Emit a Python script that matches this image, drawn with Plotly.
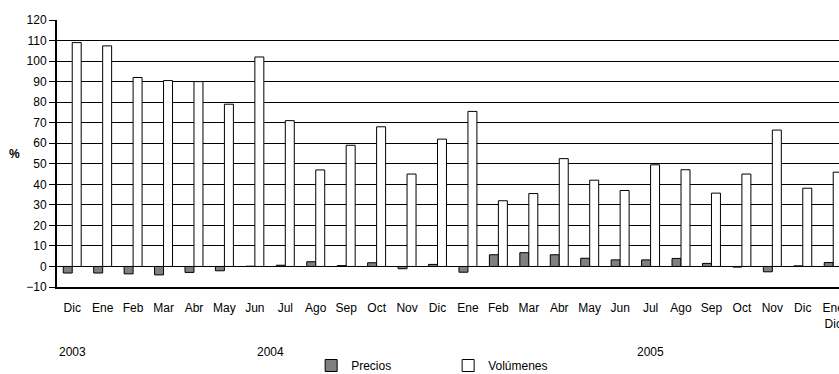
import plotly.graph_objects as go

# Monthly categories (Dic 2003 .. Ene 2006)
month_labels = ["Dic", "Ene", "Feb", "Mar", "Abr", "May", "Jun", "Jul", "Ago", "Sep", "Oct", "Nov",
                "Dic", "Ene", "Feb", "Mar", "Abr", "May", "Jun", "Jul", "Ago", "Sep", "Oct", "Nov",
                "Dic", "Ene<br>Dic"]

# Year-on-year change, %
precios = [-3.2, -3.2, -3.6, -4.1, -2.9, -2.1, 0.1, 0.6, 2.3, 0.4, 1.8, -1.1,
           1.0, -2.8, 5.7, 6.7, 5.7, 4.0, 3.2, 3.2, 3.9, 1.5, -0.3, -2.6,
           0.3, 1.9]
volumenes = [109.0, 107.4, 92.0, 90.5, 90.0, 79.0, 102.0, 71.0, 47.0, 59.0, 68.0, 45.0,
             62.0, 75.5, 32.0, 35.5, 52.5, 42.0, 37.0, 49.5, 47.1, 35.7, 45.0, 66.4,
             38.1, 45.9]

# Year group labels and their centre (in category units)
year_labels = ["2003", "2004", "2005"]
year_centres = [0, 6.5, 19]

y_ticks = list(range(-10, 121, 10))

x_pos = list(range(len(month_labels)))
FONT = "Liberation Sans, Arial, sans-serif"

fig = go.Figure()
fig.add_trace(go.Bar(
    x=x_pos, y=precios, name="Precios",
    marker=dict(color="#808080", line=dict(color="#000000", width=1)),
))
fig.add_trace(go.Bar(
    x=x_pos, y=volumenes, name="Volúmenes",
    marker=dict(color="#ffffff", line=dict(color="#000000", width=1)),
))

for label, centre in zip(year_labels, year_centres):
    fig.add_annotation(
        x=centre, xref="x", y=-0.242, yref="paper",
        text=label, showarrow=False, yanchor="middle", xanchor="center",
        font=dict(family=FONT, size=12, color="#000000"),
    )

fig.add_annotation(
    x=-0.054, xref="paper", y=55, yref="y",
    text="<b>%</b>", showarrow=False, xanchor="center", yanchor="middle",
    font=dict(family=FONT, size=12, color="#000000"),
)

fig.update_layout(
    width=839, height=374,
    margin=dict(l=57, r=0, t=20, b=87, autoexpand=False),
    paper_bgcolor="#ffffff", plot_bgcolor="#ffffff",
    barmode="group", bargap=0.41, bargroupgap=0,
    font=dict(family=FONT, size=12, color="#000000"),
    showlegend=True,
    legend=dict(
        orientation="h", x=0.325, xref="paper", xanchor="left",
        y=-0.294, yanchor="middle", entrywidth=92,
        font=dict(family=FONT, size=12, color="#000000"),
        bgcolor="rgba(0,0,0,0)", itemclick=False,
    ),
)

fig.update_xaxes(
    range=[-0.5, 25.19],
    tickmode="array", tickvals=x_pos, ticktext=month_labels,
    tickangle=0, ticks="", showgrid=False, zeroline=False,
    showline=True, linecolor="#000000", linewidth=2,
    tickfont=dict(family=FONT, size=12, color="#000000"),
    ticklabeloverflow="allow", ticklabelstandoff=9,
    automargin=False,
)
fig.update_yaxes(
    range=[-10, 120],
    tickmode="array", tickvals=y_ticks,
    ticks="outside", ticklen=6, tickcolor="#000000", tickwidth=1,
    showgrid=True, gridcolor="#000000", gridwidth=1, zeroline=False,
    showline=True, linecolor="#000000", linewidth=2,
    tickfont=dict(family=FONT, size=12, color="#000000"),
    automargin=False,
)

fig.write_html("out.html")
